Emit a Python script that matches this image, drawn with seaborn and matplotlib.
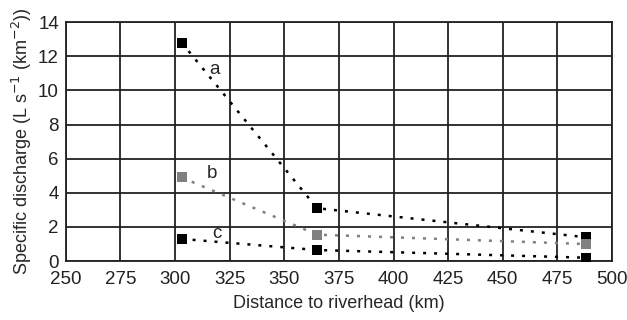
import matplotlib
matplotlib.use("Agg")
import matplotlib.pyplot as plt
import seaborn as sns
import pandas as pd

distance = [303, 365, 488]
series_a = [12.8, 3.1, 1.4]
series_b = [4.9, 1.55, 1.0]
series_c = [1.3, 0.65, 0.2]
series_names = ["a", "b", "c"]
series_colors = ["#000000", "#808080", "#000000"]
label_pos = {"a": (318, 11.2), "b": (317, 5.15), "c": (319, 1.6)}
x_ticks = [250, 275, 300, 325, 350, 375, 400, 425, 450, 475, 500]
y_ticks = [0, 2, 4, 6, 8, 10, 12, 14]

df = pd.concat([
    pd.DataFrame({"distance": distance, "q": vals, "series": name})
    for name, vals in zip(series_names, [series_a, series_b, series_c])
])

sns.set_style("white")
plt.rcParams["font.family"] = ["Liberation Sans", "DejaVu Sans"]

fig = plt.figure(figsize=(6.27, 3.2), dpi=100)
ax = fig.add_axes([0.105, 0.184, 0.871, 0.747])

for name, col in zip(series_names, series_colors):
    sub = df[df.series == name]
    sns.lineplot(data=sub, x="distance", y="q", ax=ax, color=col,
                 linestyle=(0, (1.2, 3.2)), linewidth=1.8, marker="s",
                 markersize=7.5, markeredgewidth=0, markerfacecolor=col,
                 legend=False, zorder=3)

for name, (lx, ly) in label_pos.items():
    ax.text(lx, ly, name, fontsize=13.5, ha="center", va="center", zorder=4)

ax.set_xlim(250, 500)
ax.set_ylim(0, 14)
ax.set_xticks(x_ticks)
ax.set_yticks(y_ticks)
ax.grid(True, color="#222222", linewidth=1.3)
for s in ax.spines.values():
    s.set_color("#222222")
    s.set_linewidth(1.3)
ax.tick_params(axis="x", labelsize=13.5, length=0, pad=7)
ax.tick_params(axis="y", labelsize=13.5, length=0, pad=5)
ax.set_xlabel("Distance to riverhead (km)", fontsize=13, labelpad=5)
ax.set_ylabel("Specific discharge (L s$^{-1}$ (km$^{-2}$))", fontsize=13, labelpad=3)
for lab in ax.get_xticklabels() + ax.get_yticklabels():
    lab.set_color("#222222")

fig.savefig("out.png", dpi=100)
